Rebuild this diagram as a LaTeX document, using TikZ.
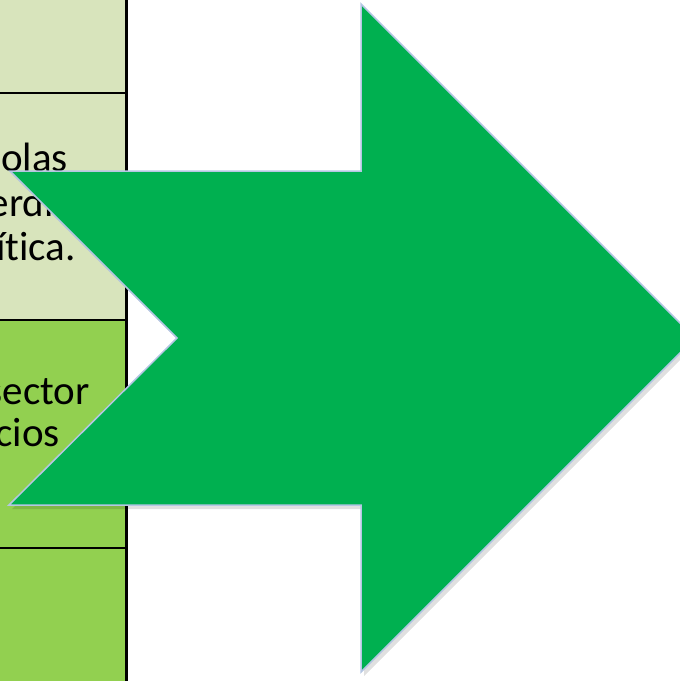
\documentclass[tikz,border=0pt]{standalone}
\usepackage{fontspec}
\setmainfont{Carlito}[RawFeature={-liga;-dlig;-clig}]
\definecolor{lightcell}{HTML}{D8E4BC}
\definecolor{brightcell}{HTML}{92D050}
\definecolor{arrowgreen}{HTML}{00B050}
\definecolor{arrowedge}{HTML}{B4C6E3}
\tikzset{
  celltext/.style={anchor=base east, inner sep=0pt, font=\fontsize{41}{46}\selectfont, text=black},
  rule/.style={line width=2.2pt, draw=black},
}
\begin{document}
\begin{tikzpicture}[x=1pt,y=-1pt]
\useasboundingbox (0,0) rectangle (680,681);
\clip (0,0) rectangle (680,681);
% table cells
\fill[lightcell] (0,0) rectangle (127,320);
\fill[brightcell] (0,320) rectangle (127,681);
\draw[rule] (0,93) -- (127,93);
\draw[rule] (0,320) -- (127,320);
\draw[rule] (0,548) -- (127,548);
\draw[line width=3pt] (126.5,0) -- (126.5,681);
% texts
\node[celltext] (t1) at (68,171) {olas};
\node[celltext] (t2) at (54,216) {erdi};
\node[celltext] (t3) at (76,260) {ít\kern0pt ica.};
\node[celltext] (t4) at (90,404) {sector};
\node[celltext] (t5) at (60,446) {cios};
% arrow shadow
\fill[black,opacity=0.12] (364,8) -- (698,342) -- (364,676) -- (364,509) -- (12,509) -- (180,342) -- (13,175) -- (364,175) -- cycle;
% arrow
\filldraw[fill=arrowgreen, draw=arrowedge, line width=1.5pt, line join=miter]
  (361,4) -- (695,338) -- (361,672) -- (361,505) -- (9,505) -- (177,338) -- (10,171) -- (361,171) -- cycle;
\end{tikzpicture}
\end{document}
